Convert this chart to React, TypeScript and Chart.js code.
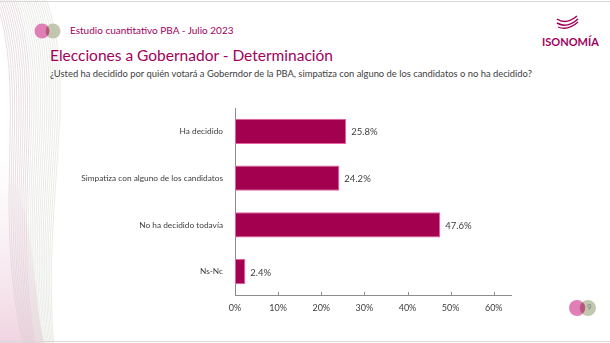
import React, { useEffect, useRef } from "react";
import { Chart, registerables } from "chart.js";

Chart.register(...registerables);

const categories = [
  "Ha decidido",
  "Simpatiza con alguno de los candidatos",
  "No ha decidido todavía",
  "Ns-Nc",
];
const values = [25.8, 24.2, 47.6, 2.4];
const xTicks = [0, 10, 20, 30, 40, 50, 60];

const FONT = "Lato, 'Open Sans', sans-serif";
const MAGENTA = "#a3005a";
const BAR = "#a3004f";
const BAR_BORDER = "#e4609f";

const valueLabels = {
  id: "valueLabels",
  afterDatasetsDraw(chart: any) {
    const ctx = chart.ctx;
    const meta = chart.getDatasetMeta(0);
    ctx.save();
    ctx.font = `9.5px ${FONT}`;
    ctx.fillStyle = "#404040";
    ctx.textAlign = "left";
    ctx.textBaseline = "middle";
    meta.data.forEach((bar: any, i: number) => {
      ctx.fillText(values[i].toFixed(1) + "%", bar.x + 5, bar.y + 1);
    });
    ctx.restore();
  },
};

const innerTicks = {
  id: "innerTicks",
  afterDraw(chart: any) {
    const ctx = chart.ctx;
    const xs = chart.scales.x;
    const bottom = chart.chartArea.bottom;
    ctx.save();
    ctx.strokeStyle = "#8c8c8c";
    ctx.lineWidth = 1;
    xs.ticks.forEach((t: any) => {
      const px = Math.round(xs.getPixelForValue(t.value)) + 0.5;
      ctx.beginPath();
      ctx.moveTo(px, bottom - 3);
      ctx.lineTo(px, bottom);
      ctx.stroke();
    });
    ctx.restore();
  },
};

function Decorations() {
  const lines = [];
  for (let i = 0; i < 24; i++) {
    const o = i * 2.2;
    lines.push(
      <path
        key={i}
        d={`M ${-6 + o} -5 C ${30 + o} 90, ${-10 + o} 200, ${24 + o * 0.6} 350`}
        fill="none"
        stroke={i < 10 ? "#e0d0d7" : "#e1e4dc"}
        strokeWidth={0.7}
      />
    );
  }
  return (
    <svg
      width={610}
      height={343}
      style={{ position: "absolute", left: 0, top: 0 }}
    >
      <defs>
        <linearGradient id="pinkfade" x1="0" y1="0" x2="0" y2="1">
          <stop offset="0" stopColor="#f3e6ec" stopOpacity="0" />
          <stop offset="1" stopColor="#ecc9d9" stopOpacity="0.8" />
        </linearGradient>
      </defs>
      <path d="M 0 150 C 40 220, 30 280, 44 343 L 0 343 Z" fill="url(#pinkfade)" />
      {lines}
      <line x1={0} y1={1.5} x2={610} y2={1.5} stroke="#d9d9d9" strokeWidth={1} />
      <line x1={0} y1={341.5} x2={610} y2={341.5} stroke="#d9d9d9" strokeWidth={1} />
      {/* header circles */}
      <circle cx={42} cy={31} r={7.5} fill="#e07fb6" />
      <circle cx={53} cy={31} r={7.5} fill="#b7bda1" opacity={0.85} />
      <path d="M 47.5 25.9 A 7.5 7.5 0 0 1 47.5 36.1 A 7.5 7.5 0 0 1 47.5 25.9 Z" fill="#b8557f" />
      {/* logo swoosh */}
      <path d="M 557 19 Q 566 25 577 16" fill="none" stroke={MAGENTA} strokeWidth={1.5} />
      <path d="M 557 23 Q 567 29 578 19" fill="none" stroke={MAGENTA} strokeWidth={1.5} />
      <path d="M 558 27 Q 568 31 578 22" fill="none" stroke={MAGENTA} strokeWidth={1.3} />
      {/* page number circles */}
      <circle cx={577} cy={308} r={8} fill="#e07fb6" />
      <circle cx={588} cy={308} r={8} fill="#b7bda1" opacity={0.85} />
      <path d="M 582.5 302 A 8 8 0 0 1 582.5 314 A 8 8 0 0 1 582.5 302 Z" fill="#b8557f" />
    </svg>
  );
}

export default function App() {
  const ref = useRef<HTMLCanvasElement>(null);

  useEffect(() => {
    if (!ref.current) return;
    const chart = new Chart(ref.current, {
      type: "bar",
      data: {
        labels: categories,
        datasets: [
          {
            data: values,
            backgroundColor: BAR,
            borderColor: BAR_BORDER,
            borderWidth: 1,
            borderSkipped: false,
            categoryPercentage: 1,
            barPercentage: 0.54,
          },
        ],
      },
      options: {
        indexAxis: "y",
        animation: false,
        responsive: false,
        maintainAspectRatio: false,
        layout: { padding: { top: 108, right: 99, left: 0, bottom: 0 } },
        plugins: {
          legend: { display: false },
          tooltip: { enabled: false },
        },
        scales: {
          x: {
            min: 0,
            max: 64,
            afterBuildTicks(scale: any) {
              scale.ticks = xTicks.map((v) => ({ value: v }));
            },
            afterFit(scale: any) {
              scale.height = 48;
            },
            grid: { display: false, drawTicks: false },
            border: { display: true, color: "#8c8c8c", width: 1 },
            ticks: {
              padding: 8,
              color: "#404040",
              font: { family: FONT, size: 9 },
              callback: (v: any) => v + "%",
            },
          },
          y: {
            afterFit(scale: any) {
              scale.width = 235;
            },
            grid: { display: false },
            border: { display: true, color: "#8c8c8c", width: 1 },
            ticks: {
              padding: 4,
              color: "#404040",
              font: { family: FONT, size: 8.3 },
            },
          },
        },
      },
      plugins: [valueLabels, innerTicks],
    });
    return () => chart.destroy();
  }, []);

  return (
    <div
      style={{
        position: "absolute",
        left: 0,
        top: 0,
        width: 610,
        height: 343,
        background: "#fff",
        overflow: "hidden",
        fontFamily: FONT,
      }}
    >
      <Decorations />
      <div
        style={{
          position: "absolute",
          left: 70,
          top: 24,
          fontSize: 10,
          color: MAGENTA,
          whiteSpace: "nowrap",
        }}
      >
        Estudio cuantitativo PBA - Julio 2023
      </div>
      <div
        style={{
          position: "absolute",
          left: 50,
          top: 46,
          fontSize: 15.5,
          color: MAGENTA,
          whiteSpace: "nowrap",
        }}
      >
        Elecciones a Gobernador - Determinación
      </div>
      <div
        style={{
          position: "absolute",
          left: 50,
          top: 68,
          fontSize: 9.4,
          color: "#404040",
          whiteSpace: "nowrap",
        }}
      >
        ¿Usted ha decidido por quién votará a Goberndor de la PBA, simpatiza con alguno de los candidatos o no ha decidido?
      </div>
      <div
        style={{
          position: "absolute",
          left: 542,
          top: 35,
          fontSize: 11,
          fontWeight: 700,
          color: MAGENTA,
          whiteSpace: "nowrap",
        }}
      >
        ISONOMÍA
      </div>
      <div
        style={{
          position: "absolute",
          left: 587,
          top: 302,
          fontSize: 8,
          color: "#7f7f7f",
        }}
      >
        9
      </div>
      <canvas
        ref={ref}
        width={610}
        height={343}
        style={{ position: "absolute", left: 0, top: 0, width: 610, height: 343 }}
      />
    </div>
  );
}
